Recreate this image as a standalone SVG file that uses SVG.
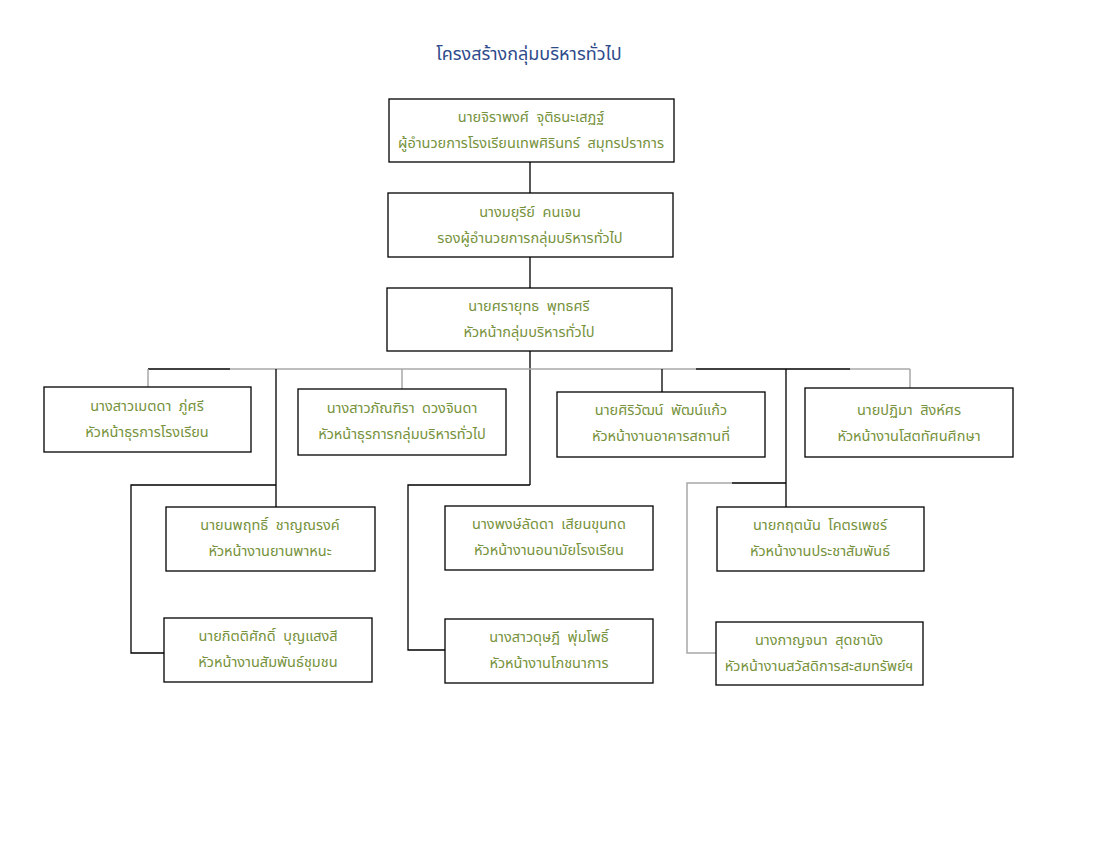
<svg xmlns="http://www.w3.org/2000/svg" width="1096" height="850" viewBox="0 0 1096 850">
<style>
.box{fill:#fff;stroke:#000;stroke-width:1.3}
.t{font-family:"Noto Sans Thai","Leelawadee UI",Tahoma,"DejaVu Sans",sans-serif;font-size:14.5px;fill:#76923C;text-anchor:middle}
.title{font-family:"Noto Sans Thai","Leelawadee UI",Tahoma,"DejaVu Sans",sans-serif;font-size:18px;fill:#2E4A8B;text-anchor:middle}
.k{stroke:#000;stroke-width:1.3;fill:none}
.g{stroke:#a8a8a8;stroke-width:1.5;fill:none}
</style>
<rect width="1096" height="850" fill="#fff"/>
<text class="title" x="529" y="60">โครงสร้างกลุ่มบริหารทั่วไป</text>
<g id="connectors">
<path class="k" d="M530 162V193M530 257V288M530 351V485"/>
<path class="k" d="M148 369H230"/>
<path class="g" d="M230 369H696"/>
<path class="k" d="M696 369H850"/>
<path class="g" d="M850 369H910"/>
<path class="g" d="M148 369V387M402 369V389M910 369V388"/>
<path class="k" d="M662 369V392"/>
<path class="k" d="M276 369V507M276 485H131V653H165"/>
<path class="k" d="M530 485H408V650H445"/>
<path class="k" d="M786 369V507M786 483H732"/>
<path class="g" d="M732 483H687V653H716"/>
</g>
<g id="n1"><rect class="box" x="389" y="99" width="285" height="63"/><text class="t" x="531" y="122">นายจิราพงศ์ &#160;จุติธนะเสฏฐ์</text><text class="t" x="531" y="148">ผู้อำนวยการโรงเรียนเทพศิรินทร์ &#160;สมุทรปราการ</text></g>
<g id="n2"><rect class="box" x="388" y="193" width="285" height="64"/><text class="t" x="530" y="217">นางมยุรีย์ &#160;คนเจน</text><text class="t" x="530" y="243">รองผู้อำนวยการกลุ่มบริหารทั่วไป</text></g>
<g id="n3"><rect class="box" x="387" y="288" width="285" height="63"/><text class="t" x="529" y="311">นายศรายุทธ &#160;พุทธศรี</text><text class="t" x="529" y="337">หัวหน้ากลุ่มบริหารทั่วไป</text></g>
<g id="n4"><rect class="box" x="44" y="387" width="207" height="65"/><text class="t" x="147" y="411">นางสาวเมตดา &#160;ภู่ศรี</text><text class="t" x="147" y="437">หัวหน้าธุรการโรงเรียน</text></g>
<g id="n5"><rect class="box" x="298" y="389" width="208" height="66"/><text class="t" x="402" y="413">นางสาวภัณฑิรา &#160;ดวงจินดา</text><text class="t" x="402" y="439">หัวหน้าธุรการกลุ่มบริหารทั่วไป</text></g>
<g id="n6"><rect class="box" x="557" y="392" width="208" height="65"/><text class="t" x="661" y="415">นายศิริวัฒน์ &#160;พัฒน์แก้ว</text><text class="t" x="661" y="441">หัวหน้างานอาคารสถานที่</text></g>
<g id="n7"><rect class="box" x="805" y="388" width="208" height="69"/><text class="t" x="909" y="415">นายปฏิมา &#160;สิงห์ศร</text><text class="t" x="909" y="441">หัวหน้างานโสตทัศนศึกษา</text></g>
<g id="n8"><rect class="box" x="166" y="507" width="209" height="64"/><text class="t" x="270" y="530">นายนพฤทธิ์ &#160;ชาญณรงค์</text><text class="t" x="270" y="556">หัวหน้างานยานพาหนะ</text></g>
<g id="n9"><rect class="box" x="164" y="618" width="208" height="64"/><text class="t" x="268" y="641">นายกิตติศักดิ์ &#160;บุญแสงสี</text><text class="t" x="268" y="667">หัวหน้างานสัมพันธ์ชุมชน</text></g>
<g id="n10"><rect class="box" x="445" y="506" width="208" height="64"/><text class="t" x="549" y="529">นางพงษ์ลัดดา &#160;เสียนขุนทด</text><text class="t" x="549" y="555">หัวหน้างานอนามัยโรงเรียน</text></g>
<g id="n11"><rect class="box" x="445" y="619" width="208" height="64"/><text class="t" x="549" y="642">นางสาวดุษฎี &#160;พุ่มโพธิ์</text><text class="t" x="549" y="668">หัวหน้างานโภชนาการ</text></g>
<g id="n12"><rect class="box" x="717" y="507" width="207" height="64"/><text class="t" x="820" y="530">นายกฤตนัน &#160;โคตรเพชร์</text><text class="t" x="820" y="556">หัวหน้างานประชาสัมพันธ์</text></g>
<g id="n13"><rect class="box" x="716" y="622" width="207" height="63"/><text class="t" x="819" y="645">นางกาญจนา &#160;สุดชานัง</text><text class="t" x="819" y="671">หัวหน้างานสวัสดิการสะสมทรัพย์ฯ</text></g>
</svg>
